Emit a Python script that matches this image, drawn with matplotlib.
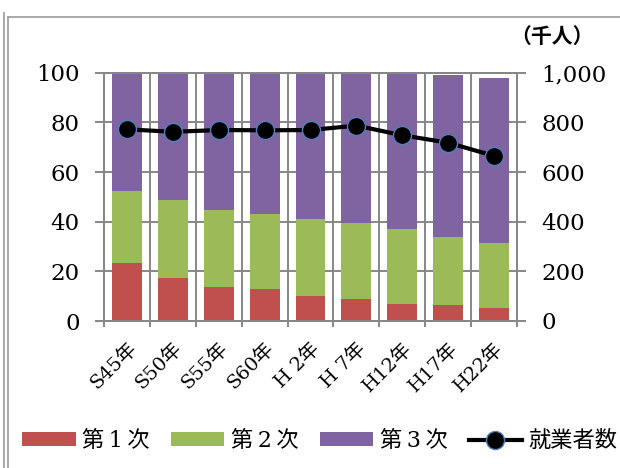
import matplotlib
matplotlib.use("Agg")
import matplotlib.pyplot as plt
from matplotlib.lines import Line2D
from matplotlib.ticker import FuncFormatter, FixedLocator

plt.rcParams['font.family'] = ['DejaVu Serif', 'Noto Sans CJK JP']

# 産業別就業者構成比（%）と就業者数（千人）
years = ["S45年", "S50年", "S55年", "S60年", "H 2年", "H 7年", "H12年", "H17年", "H22年"]
primary = [23.2, 17.4, 13.8, 12.8, 10.1, 8.7, 7.0, 6.6, 5.2]
secondary = [29.2, 31.3, 30.9, 30.2, 31.0, 30.9, 29.9, 27.1, 26.3]
tertiary = [47.6, 51.3, 55.3, 57.0, 58.9, 60.4, 62.8, 65.4, 66.5]
workers = [772, 762, 769, 768, 769, 787, 748, 718, 665]

series_labels = ["第\u20091\u2009次", "第\u20092\u2009次", "第\u20093\u2009次"]
line_label = "就業者数"
unit_label = "（千人）"

c_red = "#C0504D"
c_green = "#9BBB59"
c_purple = "#8064A2"
c_grid = "#878787"

W, H = 620, 468
fig = plt.figure(figsize=(W / 100, H / 100), dpi=100)

left, right, top, bottom = 104, 517, 72.7, 321
ax = fig.add_axes([left / W, 1 - bottom / H, (right - left) / W, (bottom - top) / H])

x = list(range(len(years)))
bw = 0.65
b1 = ax.bar(x, primary, bw, color=c_red, zorder=3)
base2 = primary
b2 = ax.bar(x, secondary, bw, bottom=base2, color=c_green, zorder=3)
base3 = [a + b for a, b in zip(primary, secondary)]
b3 = ax.bar(x, tertiary, bw, bottom=base3, color=c_purple, zorder=3)

ax.set_xlim(-0.5, len(years) - 0.5)
ax.set_ylim(0, 100)
ax.set_yticks(range(0, 101, 20))

# category labels at centres, tick marks at boundaries
ax.set_xticks(x)
ax.set_xticklabels(years, rotation=45, ha='right', rotation_mode='anchor', fontsize=14)
ax.xaxis.set_minor_locator(FixedLocator([i - 0.5 for i in range(len(years) + 1)]))
ax.tick_params(axis='x', which='major', length=0, pad=13)
ax.tick_params(axis='x', which='minor', length=4.3, width=1.4, color=c_grid, direction='out')
ax.tick_params(axis='y', length=6.5, width=1.4, color=c_grid, labelsize=16.5, pad=11)

ax.grid(True, axis='y', which='major', color=c_grid, linewidth=1.4, zorder=0)
ax.grid(True, axis='x', which='minor', color=c_grid, linewidth=1.4, zorder=0)
ax.set_axisbelow(True)
for s in ax.spines.values():
    s.set_color(c_grid)
    s.set_linewidth(1.4)

ax2 = ax.twinx()
ln, = ax2.plot(x, workers, color='black', linewidth=3.0, marker='o', markersize=13,
               markerfacecolor='black', markeredgecolor='#4F81BD', markeredgewidth=1.0, zorder=5)
ax2.set_ylim(0, 1000)
ax2.set_yticks(range(0, 1001, 200))
ax2.yaxis.set_major_formatter(FuncFormatter(lambda v, p: f"{int(v):,}"))
ax2.tick_params(axis='y', length=6.5, width=1.4, color=c_grid, labelsize=16.5, pad=11)
for s in ax2.spines.values():
    s.set_color(c_grid)
    s.set_linewidth(1.4)

fig.text(552 / W, 1 - 36 / H, unit_label, ha='center', va='center', fontsize=15,
         fontweight='bold', family=['Noto Sans CJK JP'])

leg = fig.legend([b1[0], b2[0], b3[0], ln], series_labels + [line_label],
                 loc='center', bbox_to_anchor=(320 / W, 1 - 441 / H), ncol=4,
                 frameon=False, fontsize=16, handlelength=2.4, handleheight=0.6,
                 handletextpad=0.3, columnspacing=0.95, borderaxespad=0)

# outer frame lines
fig.add_artist(Line2D([3.5 / W, 3.5 / W], [0, 1 - 13 / H], transform=fig.transFigure,
                      color="#9a9a9a", linewidth=1.2))
fig.add_artist(Line2D([7.5 / W, 7.5 / W], [0, 1 - 17 / H], transform=fig.transFigure,
                      color="#9a9a9a", linewidth=1.2))
fig.add_artist(Line2D([7.5 / W, 1], [1 - 17 / H, 1 - 17 / H], transform=fig.transFigure,
                      color="#9a9a9a", linewidth=1.2))

fig.savefig("out.png", dpi=100)
